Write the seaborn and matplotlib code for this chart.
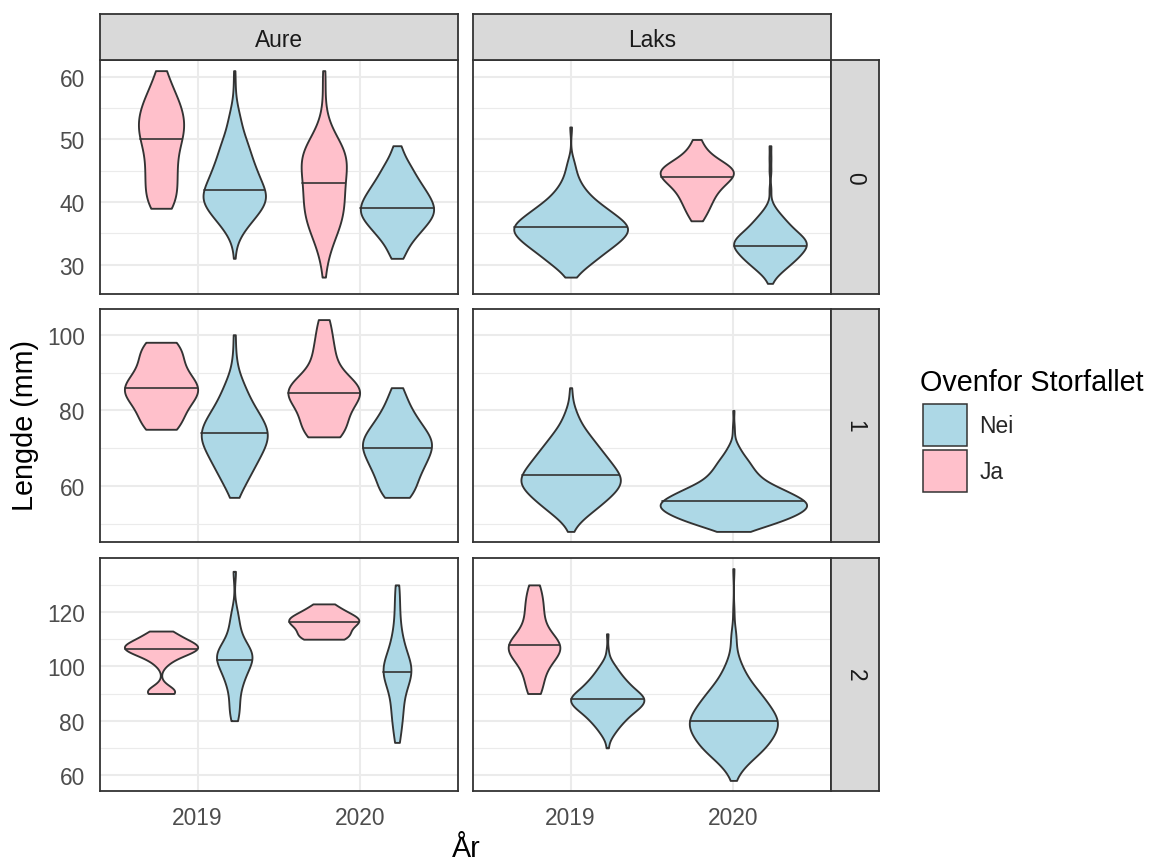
import numpy as np
import pandas as pd
import matplotlib
matplotlib.use("Agg")
import matplotlib.pyplot as plt
from matplotlib.patches import Patch
from matplotlib.transforms import Affine2D
import seaborn as sns

# ---------------------------------------------------------------------------
# Fish lengths (mm): measured value and number of fish with that length,
# per species, age class, year and site (above / below Storfallet)
# ---------------------------------------------------------------------------
# Aure, age 0
aure0_2019_ja_mm = [39, 40, 41, 42, 43, 44, 45, 46, 47, 48, 49, 50, 51, 52, 53, 54, 55, 56, 57, 58,
                    59, 60, 61]
aure0_2019_ja_n = [5, 4, 4, 4, 4, 4, 4, 4, 4, 4, 4, 6, 6, 6, 6, 6, 5, 5, 4, 3,
                   2, 2, 2]
aure0_2019_nei_mm = [31, 33, 34, 35, 36, 37, 38, 39, 40, 41, 42, 43, 44, 45, 46, 47, 48, 49, 50, 51,
                     52, 53, 54, 55, 56, 57, 59, 61]
aure0_2019_nei_n = [1, 1, 2, 4, 7, 10, 13, 16, 19, 19, 18, 15, 14, 13, 11, 10, 9, 8, 7, 5,
                    4, 4, 3, 2, 1, 1, 1, 1]
aure0_2020_ja_mm = [28, 30, 31, 32, 33, 34, 35, 36, 37, 38, 39, 40, 41, 42, 43, 44, 45, 46, 47, 48,
                    49, 50, 51, 52, 53, 54, 56, 59, 61]
aure0_2020_ja_n = [1, 1, 1, 2, 2, 3, 4, 5, 5, 6, 6, 6, 6, 6, 6, 6, 7, 7, 7, 7,
                   6, 4, 3, 2, 1, 1, 1, 1, 1]
aure0_2020_nei_mm = [31, 32, 33, 34, 35, 36, 37, 38, 39, 40, 41, 42, 43, 44, 45, 46, 47, 48, 49]
aure0_2020_nei_n = [3, 3, 4, 6, 8, 10, 12, 14, 14, 13, 12, 10, 9, 7, 6, 5, 3, 2, 2]

# Laks, age 0
laks0_2019_nei_mm = [28, 29, 30, 31, 32, 33, 34, 35, 36, 37, 38, 39, 40, 41, 42, 43, 44, 45, 46, 47, 52]
laks0_2019_nei_n = [2, 4, 8, 11, 14, 18, 21, 24, 25, 22, 18, 15, 11, 8, 6, 4, 3, 2, 2, 1, 1]
laks0_2020_ja_mm = [37, 38, 39, 40, 41, 42, 43, 44, 45, 46, 47, 48, 49, 50]
laks0_2020_ja_n = [1, 2, 2, 3, 3, 4, 5, 7, 8, 6, 3, 2, 1, 1]
laks0_2020_nei_mm = [27, 28, 29, 30, 31, 32, 33, 34, 35, 36, 37, 38, 39, 40, 42, 45, 47, 49]
laks0_2020_nei_n = [1, 3, 7, 11, 15, 18, 21, 20, 16, 12, 9, 6, 3, 1, 1, 1, 1, 1]

# Aure, age 1
aure1_2019_ja_mm = [75, 76, 77, 78, 79, 80, 81, 82, 83, 84, 85, 86, 87, 88, 89, 90, 91, 92, 93, 94,
                    95, 96, 97, 98]
aure1_2019_ja_n = [2, 1, 1, 1, 1, 1, 1, 1, 2, 2, 2, 2, 2, 2, 1, 1, 1, 1, 1, 1,
                   1, 1, 1, 2]
aure1_2019_nei_mm = [57, 58, 59, 60, 61, 62, 63, 64, 65, 66, 67, 68, 69, 70, 71, 72, 73, 74, 75, 76,
                     77, 78, 79, 80, 81, 82, 83, 84, 85, 86, 87, 88, 89, 90, 92, 95, 100]
aure1_2019_nei_n = [1, 1, 1, 2, 2, 2, 3, 3, 3, 4, 4, 4, 5, 5, 5, 6, 6, 6, 6, 5,
                    5, 5, 4, 4, 3, 3, 3, 2, 2, 2, 2, 1, 1, 1, 1, 1, 1]
aure1_2020_ja_mm = [73, 74, 75, 76, 77, 78, 79, 80, 81, 82, 83, 84, 85, 86, 87, 88, 89, 90, 92, 94,
                    96, 98, 101, 104]
aure1_2020_ja_n = [2, 1, 1, 1, 1, 1, 1, 1, 1, 1, 2, 2, 2, 2, 2, 1, 1, 1, 1, 1,
                   1, 1, 1, 1]
aure1_2020_nei_mm = [57, 58, 59, 60, 61, 62, 63, 64, 65, 66, 67, 68, 69, 70, 71, 72, 73, 74, 75, 76,
                     77, 78, 79, 80, 81, 82, 83, 84, 85, 86]
aure1_2020_nei_n = [3, 2, 2, 2, 2, 2, 2, 3, 3, 3, 3, 3, 4, 4, 4, 4, 4, 3, 3, 3,
                    2, 2, 2, 2, 1, 1, 1, 1, 1, 1]

# Laks, age 1
laks1_2019_nei_mm = [48, 49, 50, 51, 52, 53, 54, 55, 56, 57, 58, 59, 60, 61, 62, 63, 64, 65, 66, 67,
                     68, 69, 70, 71, 72, 73, 74, 75, 76, 77, 78, 79, 80, 81, 82, 84, 86]
laks1_2019_nei_n = [1, 1, 2, 4, 5, 7, 9, 10, 12, 13, 15, 16, 17, 18, 18, 17, 16, 15, 14, 13,
                    12, 11, 10, 9, 8, 7, 6, 5, 4, 3, 3, 2, 2, 1, 1, 1, 1]
laks1_2020_nei_mm = [48, 49, 50, 51, 52, 53, 54, 55, 56, 57, 58, 59, 60, 61, 62, 63, 64, 65, 66, 67,
                     68, 69, 70, 71, 72, 74, 76, 80]
laks1_2020_nei_n = [8, 13, 19, 24, 29, 32, 35, 37, 35, 31, 28, 24, 20, 16, 13, 12, 10, 9, 8, 7,
                    5, 4, 3, 2, 1, 1, 1, 1]

# Aure, age 2
aure2_2019_ja_mm = [90, 91, 92, 101, 103, 104, 105, 106, 107, 108, 109, 110, 111, 112, 113]
aure2_2019_ja_n = [2, 1, 1, 1, 1, 1, 2, 2, 3, 2, 2, 1, 1, 1, 1]
aure2_2019_nei_mm = [80, 82, 84, 86, 88, 90, 92, 94, 96, 98, 100, 101, 102, 103, 104, 105, 106, 107,
                     108, 110, 112, 114, 116, 118, 121, 135]
aure2_2019_nei_n = [1, 1, 1, 1, 1, 1, 1, 2, 2, 2, 3, 1, 2, 2, 2, 2, 2, 2,
                    1, 2, 1, 1, 1, 1, 1, 1]
aure2_2020_ja_mm = [110, 111, 112, 113, 114, 115, 116, 117, 118, 119, 120, 121, 123]
aure2_2020_ja_n = [2, 1, 1, 1, 1, 1, 1, 3, 1, 1, 1, 1, 1]
aure2_2020_nei_mm = [72, 75, 78, 80, 81, 84, 85, 86, 88, 90, 92, 94, 95, 96, 97, 98, 99, 100, 101, 102,
                     104, 106, 108, 110, 112, 115, 118, 122, 126, 130]
aure2_2020_nei_n = [1, 1, 1, 1, 1, 1, 1, 1, 1, 1, 2, 2, 1, 2, 1, 2, 1, 2, 2, 2,
                    2, 1, 2, 1, 1, 1, 1, 1, 1, 1]

# Laks, age 2
laks2_2019_ja_mm = [90, 93, 96, 99, 101, 103, 104, 105, 106, 107, 108, 109, 110, 112, 114, 117, 120,
                    123, 126, 130]
laks2_2019_ja_n = [1, 1, 1, 1, 1, 1, 1, 1, 1, 1, 2, 1, 1, 1, 1, 1, 1, 1, 1, 1]
laks2_2019_nei_mm = [70, 73, 74, 75, 76, 77, 78, 79, 80, 81, 82, 83, 84, 85, 86, 87, 88, 89, 90, 91,
                     92, 93, 94, 95, 96, 97, 98, 99, 100, 101, 102, 103, 106, 112]
laks2_2019_nei_n = [1, 1, 1, 2, 2, 3, 3, 4, 5, 5, 6, 7, 8, 9, 10, 10, 11, 10, 9, 8,
                    7, 6, 6, 5, 4, 4, 3, 3, 2, 2, 1, 1, 1, 1]
laks2_2020_nei_mm = [58, 60, 61, 62, 63, 64, 65, 66, 67, 68, 69, 70, 71, 72, 73, 74, 75, 76, 77, 78,
                     79, 80, 81, 82, 83, 84, 85, 86, 87, 88, 89, 90, 91, 92, 93, 94, 95, 96, 97, 98,
                     99, 100, 101, 102, 103, 104, 105, 107, 109, 111, 112, 113, 120, 136]
laks2_2020_nei_n = [1, 1, 1, 2, 2, 3, 3, 4, 5, 6, 6, 7, 7, 8, 8, 8, 9, 9, 9, 10,
                    10, 10, 9, 9, 9, 8, 8, 7, 7, 7, 6, 6, 5, 5, 4, 4, 3, 3, 3, 2,
                    2, 2, 2, 1, 1, 1, 1, 1, 1, 1, 1, 1, 1, 1]

SPECIES = ["Aure", "Laks"]
AGES = [0, 1, 2]
YEARS = ["2019", "2020"]
SITE_ORDER = ["Ja", "Nei"]        # dodge order within a year
LEGEND_ORDER = ["Nei", "Ja"]
COLORS = {"Nei": "#ADD8E6", "Ja": "#FFC0CB"}
ROW_TICKS = [[30, 40, 50, 60], [60, 80, 100], [60, 80, 100, 120]]
ROW_MINOR = [[35, 45, 55], [50, 70, 90], [70, 90, 110, 130]]

groups = [
    ("Aure", 0, "2019", "Ja", aure0_2019_ja_mm, aure0_2019_ja_n),
    ("Aure", 0, "2019", "Nei", aure0_2019_nei_mm, aure0_2019_nei_n),
    ("Aure", 0, "2020", "Ja", aure0_2020_ja_mm, aure0_2020_ja_n),
    ("Aure", 0, "2020", "Nei", aure0_2020_nei_mm, aure0_2020_nei_n),
    ("Laks", 0, "2019", "Nei", laks0_2019_nei_mm, laks0_2019_nei_n),
    ("Laks", 0, "2020", "Ja", laks0_2020_ja_mm, laks0_2020_ja_n),
    ("Laks", 0, "2020", "Nei", laks0_2020_nei_mm, laks0_2020_nei_n),
    ("Aure", 1, "2019", "Ja", aure1_2019_ja_mm, aure1_2019_ja_n),
    ("Aure", 1, "2019", "Nei", aure1_2019_nei_mm, aure1_2019_nei_n),
    ("Aure", 1, "2020", "Ja", aure1_2020_ja_mm, aure1_2020_ja_n),
    ("Aure", 1, "2020", "Nei", aure1_2020_nei_mm, aure1_2020_nei_n),
    ("Laks", 1, "2019", "Nei", laks1_2019_nei_mm, laks1_2019_nei_n),
    ("Laks", 1, "2020", "Nei", laks1_2020_nei_mm, laks1_2020_nei_n),
    ("Aure", 2, "2019", "Ja", aure2_2019_ja_mm, aure2_2019_ja_n),
    ("Aure", 2, "2019", "Nei", aure2_2019_nei_mm, aure2_2019_nei_n),
    ("Aure", 2, "2020", "Ja", aure2_2020_ja_mm, aure2_2020_ja_n),
    ("Aure", 2, "2020", "Nei", aure2_2020_nei_mm, aure2_2020_nei_n),
    ("Laks", 2, "2019", "Ja", laks2_2019_ja_mm, laks2_2019_ja_n),
    ("Laks", 2, "2019", "Nei", laks2_2019_nei_mm, laks2_2019_nei_n),
    ("Laks", 2, "2020", "Nei", laks2_2020_nei_mm, laks2_2020_nei_n),
]

records = []
for art, alder, aar, site, mm, n in groups:
    for value, count in zip(mm, n):
        records.extend([(art, alder, aar, site, value)] * count)
df = pd.DataFrame(records, columns=["art", "alder", "aar", "ovenfor", "lengde"])


def nrd0(kde):
    """Silverman's rule of thumb (R's bw.nrd0), as a factor of the data sd."""
    x = np.asarray(kde.dataset).ravel()
    sd = x.std(ddof=1)
    q75, q25 = np.percentile(x, [75, 25])
    lo = min(sd, (q75 - q25) / 1.34)
    if lo <= 0:
        lo = sd
    return 0.9 * lo * len(x) ** (-0.2) / sd


# ---------------------------------------------------------------------------
# Styling
# ---------------------------------------------------------------------------
sns.set_style("white")
plt.rcParams["font.family"] = ["Liberation Sans", "DejaVu Sans"]

EDGE = "#333333"
GRID = "#EBEBEB"
STRIP_BG = "#D9D9D9"
AXIS_TXT = "#4D4D4D"
TICK_FS = 16.4
TITLE_FS = 20.7

W, H = 1150, 862
fig = plt.figure(figsize=(W / 100, H / 100), dpi=100)


def box(x0, y0, x1, y1):
    return [x0 / W, 1 - y1 / H, (x1 - x0) / W, (y1 - y0) / H]


COL_X = [(100, 458), (473, 831)]
ROW_Y = [(61, 295), (310, 543), (559, 792)]
TOP_STRIP_Y = (15, 61)
RIGHT_STRIP_X = (831, 879)


def style_strip(sax):
    sax.set_facecolor(STRIP_BG)
    sax.set_xticks([])
    sax.set_yticks([])
    for sp in sax.spines.values():
        sp.set_color(EDGE)
        sp.set_linewidth(1.3)


for r, age in enumerate(AGES):
    row_df = df[df.alder == age]
    lo, hi = row_df.lengde.min(), row_df.lengde.max()
    pad = 0.05 * (hi - lo)
    for c, art in enumerate(SPECIES):
        ax = fig.add_axes(box(COL_X[c][0], ROW_Y[r][0], COL_X[c][1], ROW_Y[r][1]))
        sub = row_df[row_df.art == art]
        sns.violinplot(
            data=sub, x="aar", y="lengde", hue="ovenfor",
            order=YEARS, hue_order=SITE_ORDER, palette=COLORS,
            dodge=True, width=0.9, gap=0, saturation=1,
            density_norm="area", common_norm=True, cut=0, gridsize=512,
            bw_method=nrd0, inner="quart",
            inner_kws=dict(color=EDGE, linewidth=1.2),
            linewidth=1.35, linecolor=EDGE, legend=False, ax=ax,
        )

        # keep only the median line of each violin, drawn solid
        bodies = list(ax.collections)
        lines = list(ax.lines)
        n_sites = sub.groupby("aar")["ovenfor"].nunique()
        for k, body in enumerate(bodies):
            xs = body.get_paths()[0].vertices[:, 0]
            center = 0.5 * (xs.min() + xs.max())
            idx = int(round(center))
            trio = lines[3 * k:3 * k + 3]
            med = trio[1]
            trio[0].remove()
            trio[2].remove()
            med.set_linestyle("-")
            # a year with a single site gets the full dodge width, centred
            if n_sites.get(YEARS[idx], 0) == 1:
                tr = Affine2D().translate(-center, 0).scale(2, 1).translate(idx, 0) + ax.transData
                body.set_transform(tr)
                med.set_transform(tr)

        ax.set_xlim(-0.6, 1.6)
        ax.set_ylim(lo - pad, hi + pad)
        ax.set_yticks(ROW_TICKS[r])
        ax.set_yticks(ROW_MINOR[r], minor=True)
        ax.set_xlabel("")
        ax.set_ylabel("")
        ax.set_axisbelow(True)
        ax.yaxis.grid(True, which="major", color=GRID, linewidth=1.5)
        ax.yaxis.grid(True, which="minor", color=GRID, linewidth=0.8)
        ax.xaxis.grid(True, which="major", color=GRID, linewidth=1.5)
        for sp in ax.spines.values():
            sp.set_visible(True)
            sp.set_color(EDGE)
            sp.set_linewidth(1.3)
        ax.tick_params(which="minor", length=0)
        ax.tick_params(axis="both", which="major", length=6, width=1.1, color=EDGE,
                       labelsize=TICK_FS, labelcolor=AXIS_TXT, pad=5)
        if c > 0:
            ax.tick_params(axis="y", which="major", length=0, labelleft=False)
        if r < len(AGES) - 1:
            ax.tick_params(axis="x", which="major", length=0, labelbottom=False)

    # row strip on the right
    sax = fig.add_axes(box(RIGHT_STRIP_X[0], ROW_Y[r][0], RIGHT_STRIP_X[1], ROW_Y[r][1]))
    style_strip(sax)
    sax.text(0.5, 0.5, str(age), rotation=-90, ha="center", va="center",
             transform=sax.transAxes, fontsize=TICK_FS, color="#1A1A1A")

# column strips on top
for c, art in enumerate(SPECIES):
    sax = fig.add_axes(box(COL_X[c][0], TOP_STRIP_Y[0], COL_X[c][1], TOP_STRIP_Y[1]))
    style_strip(sax)
    sax.text(0.5, 0.45, art, ha="center", va="center",
             transform=sax.transAxes, fontsize=TICK_FS, color="#1A1A1A")

# axis titles
fig.text(25 / W, 1 - 426 / H, "Lengde (mm)", rotation=90, ha="center", va="center",
         fontsize=TITLE_FS, color="black")
fig.text(466 / W, 1 - 849 / H, "År", ha="center", va="center",
         fontsize=TITLE_FS, color="black")

# legend: title as its own text, keys below it
fig.text(920 / W, 1 - 391 / H, "Ovenfor Storfallet", ha="left", va="baseline",
         fontsize=TITLE_FS, color="black")
handles = [Patch(facecolor=COLORS[s], edgecolor=EDGE, linewidth=1.1, label=s)
           for s in LEGEND_ORDER]
fig.legend(handles=handles, loc="upper left",
           bbox_to_anchor=(923 / W, 1 - 405 / H), frameon=False,
           fontsize=TICK_FS, handlelength=1.93, handleheight=2.46, handletextpad=0.55,
           labelspacing=0.18, borderpad=0, borderaxespad=0)

fig.savefig("out.png", dpi=100)
